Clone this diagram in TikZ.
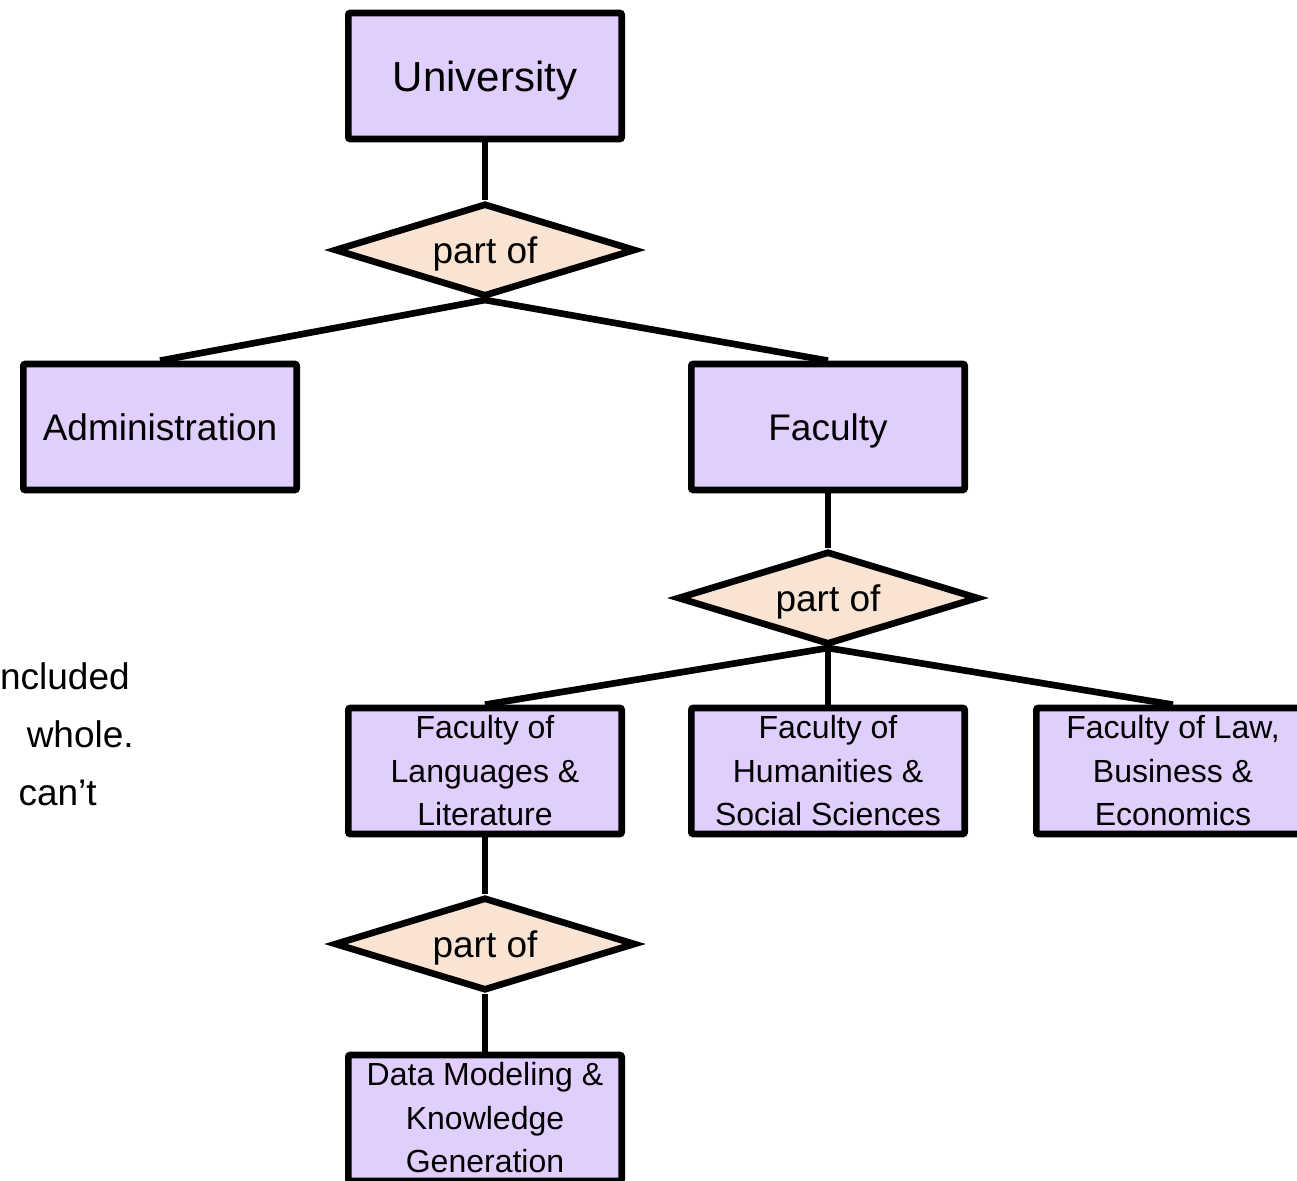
\documentclass[tikz,border=0pt]{standalone}
\usepackage{fontspec}
\setmainfont{Liberation Sans}
\usetikzlibrary{shapes.geometric}
\pgfdeclarelayer{bg}
\pgfsetlayers{bg,main}
\def\gprgb#1#2#3{rgb,255:red,#1;green,#2;blue,#3}

\begin{document}
\begin{tikzpicture}[x=0.75pt,y=-0.75pt,
  entity/.style={shape=rectangle,fill=\gprgb{224}{206}{253},draw,line width=5pt,rounded corners=1.5pt,minimum width=205pt,minimum height=94.5pt,inner sep=0pt,align=center},
  relation/.style={shape=diamond,aspect=3.3,fill=\gprgb{249}{228}{212},draw,line width=5pt,minimum width=226pt,minimum height=70pt,inner sep=0pt,text depth=0pt,font=\fontsize{27.75}{33}\selectfont},
  small/.style={font=\fontsize{24}{32.6}\selectfont},
  large/.style={text depth=0pt,font=\fontsize{27.75}{33}\selectfont},
  note/.style={inner sep=0pt,anchor=base east,font=\fontsize{27.75}{33}\selectfont}]

\useasboundingbox (0,0) rectangle (1297,1181);
\clip (0,0) rectangle (1297,1181);

% Put legends if any...
\node (t0) at (130,689) [note] {ncluded};
\node (t1) at (134,747) [note] {whole.};
\node (t2) at ( 97,805) [note] {can’t};

% Draw the nodes...
\node (0) at ( 485,  76) [entity,text depth=0pt,font=\fontsize{31.5}{36}\selectfont] {University};
\node (1) at ( 485, 250) [relation] {part of};
\node (2) at ( 160, 427) [entity,large] {Administration};
\node (3) at ( 828, 427) [entity,large] {Faculty};
\node (4) at ( 828, 598) [relation] {part of};
\node (5) at ( 485, 771) [entity,small] {Faculty of\\Languages \&\\Literature};
\node (6) at ( 828, 771) [entity,small] {Faculty of\\Humanities \&\\Social Sciences};
\node (7) at (1173, 771) [entity,small] {Faculty of Law,\\Business \&\\Economics};
\node (8) at ( 485, 944) [relation] {part of};
\node (9) at ( 485,1118) [entity,small] {Data Modeling \&\\Knowledge\\Generation};

% Draw the edges...
\begin{pgfonlayer}{bg}
\draw[line width=5pt] (0.south) -- (1.north);
\draw[line width=5pt] (1.south) -- (2.north);
\draw[line width=5pt] (1.south) -- (3.north);
\draw[line width=5pt] (3.south) -- (4.north);
\draw[line width=5pt] (4.south) -- (5.north);
\draw[line width=5pt] (4.south) -- (6.north);
\draw[line width=5pt] (4.south) -- (7.north);
\draw[line width=5pt] (5.south) -- (8.north);
\draw[line width=5pt] (8.south) -- (9.north);
\end{pgfonlayer}

\end{tikzpicture}
\end{document}
